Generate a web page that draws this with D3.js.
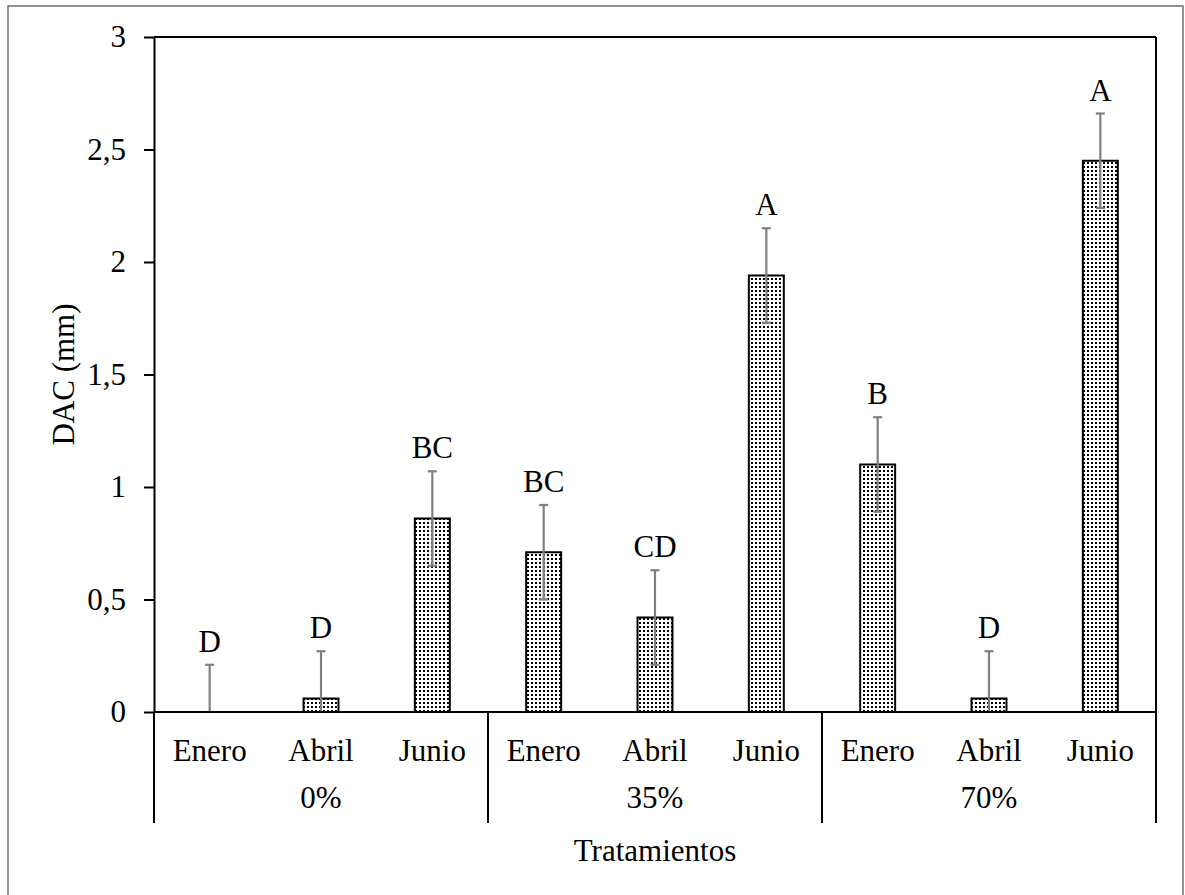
<!DOCTYPE html>
<html>
<head>
<meta charset="utf-8">
<script src="https://cdn.jsdelivr.net/npm/d3@7"></script>
<style>
    body { margin: 0; background: #fff; }
    svg text { font-family: "Liberation Serif", "Times New Roman", serif !important; fill: #000; }
</style>
</head>
<body>
<div id="chart"></div>
<script>
// data
const groups = ["0%", "35%", "70%"];
const months = ["Enero", "Abril", "Junio"];
const values = [0, 0.06, 0.86, 0.71, 0.42, 1.94, 1.10, 0.06, 2.45];
const errors = [0.21, 0.21, 0.21, 0.21, 0.21, 0.21, 0.21, 0.21, 0.21];
const letters = ["D", "D", "BC", "BC", "CD", "A", "B", "D", "A"];
const yTicks = [0, 0.5, 1, 1.5, 2, 2.5, 3];
const yLabel = "DAC (mm)";
const xLabel = "Tratamientos";

// build rows
let rows = [];
groups.forEach(function(g, gi) {
    months.forEach(function(m, mi) {
        let i = gi * months.length + mi;
        rows.push({key: g + "|" + m, group: g, month: m, value: values[i], err: errors[i], letter: letters[i]});
    });
});

const width = 1185, height = 895;
const margin = {top: 37, right: 29, bottom: 183, left: 154};
const innerW = width - margin.left - margin.right;
const innerH = height - margin.top - margin.bottom;
const fontSize = 31;

let svg = d3.select("#chart").append("svg")
    .attr("width", width)
    .attr("height", height);

// outer frame
svg.append("rect")
    .attr("x", 8).attr("y", 6)
    .attr("width", 1175).attr("height", 900)
    .attr("fill", "none")
    .attr("stroke", "#595959")
    .attr("stroke-width", 1.3);

// dotted fill pattern
let pat = svg.append("defs").append("pattern")
    .attr("id", "dots")
    .attr("patternUnits", "userSpaceOnUse")
    .attr("width", 4).attr("height", 4);
pat.append("rect").attr("width", 4).attr("height", 4).attr("fill", "#fff");
pat.append("rect").attr("x", 1).attr("y", 1).attr("width", 2).attr("height", 2).attr("fill", "#000");

let g = svg.append("g")
    .attr("transform", "translate(" + margin.left + "," + margin.top + ")");

let x = d3.scaleBand()
    .domain(rows.map(d => d.key))
    .range([0, innerW]);

let xGroup = d3.scaleBand()
    .domain(groups)
    .range([0, innerW]);

let y = d3.scaleLinear()
    .domain([0, 3])
    .range([innerH, 0]);

let locale = d3.formatLocale({decimal: ",", thousands: ".", grouping: [3], currency: ["", ""]});
let fmt = locale.format("~g");

// plot area box (top + right)
g.append("line")
    .attr("x1", 0).attr("x2", innerW)
    .attr("y1", y(3)).attr("y2", y(3))
    .attr("stroke", "#000").attr("stroke-width", 2);

// y axis
let yAxis = g.append("g")
    .call(d3.axisLeft(y).tickValues(yTicks).tickFormat(fmt).tickSize(10).tickSizeOuter(0).tickPadding(18));
yAxis.attr("font-family", "Liberation Serif, serif");
yAxis.select(".domain").attr("stroke", "#000").attr("stroke-width", 2);
yAxis.selectAll(".tick line").attr("stroke", "#000").attr("stroke-width", 2).attr("x2", -10);
yAxis.selectAll(".tick text")
    .attr("font-size", fontSize)
    .attr("fill", "#000");

// bars
let barW = x.bandwidth() * 0.314;
g.selectAll(".bar")
    .data(rows)
    .enter()
    .append("rect")
    .attr("class", "bar")
    .attr("x", d => x(d.key) + x.bandwidth() / 2 - barW / 2)
    .attr("y", d => y(d.value))
    .attr("width", barW)
    .attr("height", d => y(0) - y(d.value))
    .attr("fill", "url(#dots)")
    .attr("stroke", "#000")
    .attr("stroke-width", d => d.value > 0 ? 2 : 0);

// error bars
let capW = 9;
let eb = g.selectAll(".err")
    .data(rows)
    .enter()
    .append("g")
    .attr("class", "err")
    .attr("stroke", "#7f7f7f")
    .attr("stroke-width", 2.2);
eb.append("line")
    .attr("x1", d => x(d.key) + x.bandwidth() / 2)
    .attr("x2", d => x(d.key) + x.bandwidth() / 2)
    .attr("y1", d => y(Math.max(0, d.value - d.err)))
    .attr("y2", d => y(d.value + d.err));
eb.append("line")
    .attr("x1", d => x(d.key) + x.bandwidth() / 2 - capW / 2)
    .attr("x2", d => x(d.key) + x.bandwidth() / 2 + capW / 2)
    .attr("y1", d => y(d.value + d.err))
    .attr("y2", d => y(d.value + d.err));
eb.filter(d => d.value - d.err > 0)
    .append("line")
    .attr("x1", d => x(d.key) + x.bandwidth() / 2 - capW / 2)
    .attr("x2", d => x(d.key) + x.bandwidth() / 2 + capW / 2)
    .attr("y1", d => y(d.value - d.err))
    .attr("y2", d => y(d.value - d.err));

// significance letters
g.selectAll(".letter")
    .data(rows)
    .enter()
    .append("text")
    .attr("class", "letter")
    .attr("x", d => x(d.key) + x.bandwidth() / 2)
    .attr("y", d => y(d.value + d.err) - 13)
    .attr("text-anchor", "middle")
    .attr("font-size", fontSize)
    .text(d => d.letter);

// x axis line
g.append("line")
    .attr("x1", 0).attr("x2", innerW)
    .attr("y1", y(0)).attr("y2", y(0))
    .attr("stroke", "#000").attr("stroke-width", 2);

// month labels
let xAxis = g.append("g")
    .attr("transform", "translate(0," + innerH + ")")
    .call(d3.axisBottom(x).tickSize(0).tickPadding(27).tickFormat(k => k.split("|")[1]));
xAxis.attr("font-family", "Liberation Serif, serif");
xAxis.select(".domain").remove();
xAxis.selectAll(".tick text")
    .attr("font-size", fontSize)
    .attr("fill", "#000");

// group separators
let sepBottom = innerH + 111;
let sepX = [0].concat(groups.map(gr => xGroup(gr) + xGroup.bandwidth()));
g.selectAll(".sep")
    .data(sepX)
    .enter()
    .append("line")
    .attr("x1", d => d).attr("x2", d => d)
    .attr("y1", (d, i) => (i === sepX.length - 1) ? y(3) : innerH)
    .attr("y2", sepBottom)
    .attr("stroke", "#000").attr("stroke-width", 2);

// group labels
g.selectAll(".grp")
    .data(groups)
    .enter()
    .append("text")
    .attr("x", d => xGroup(d) + xGroup.bandwidth() / 2)
    .attr("y", innerH + 96)
    .attr("text-anchor", "middle")
    .attr("font-size", fontSize)
    .text(d => d);

// axis titles
g.append("text")
    .attr("x", innerW / 2)
    .attr("y", innerH + 149)
    .attr("text-anchor", "middle")
    .attr("font-size", fontSize)
    .text(xLabel);

g.append("text")
    .attr("transform", "translate(" + (63 - margin.left) + "," + (innerH / 2) + ") rotate(-90)")
    .attr("text-anchor", "middle")
    .attr("dominant-baseline", "central")
    .attr("font-size", fontSize)
    .text(yLabel);
</script>
</body>
</html>
